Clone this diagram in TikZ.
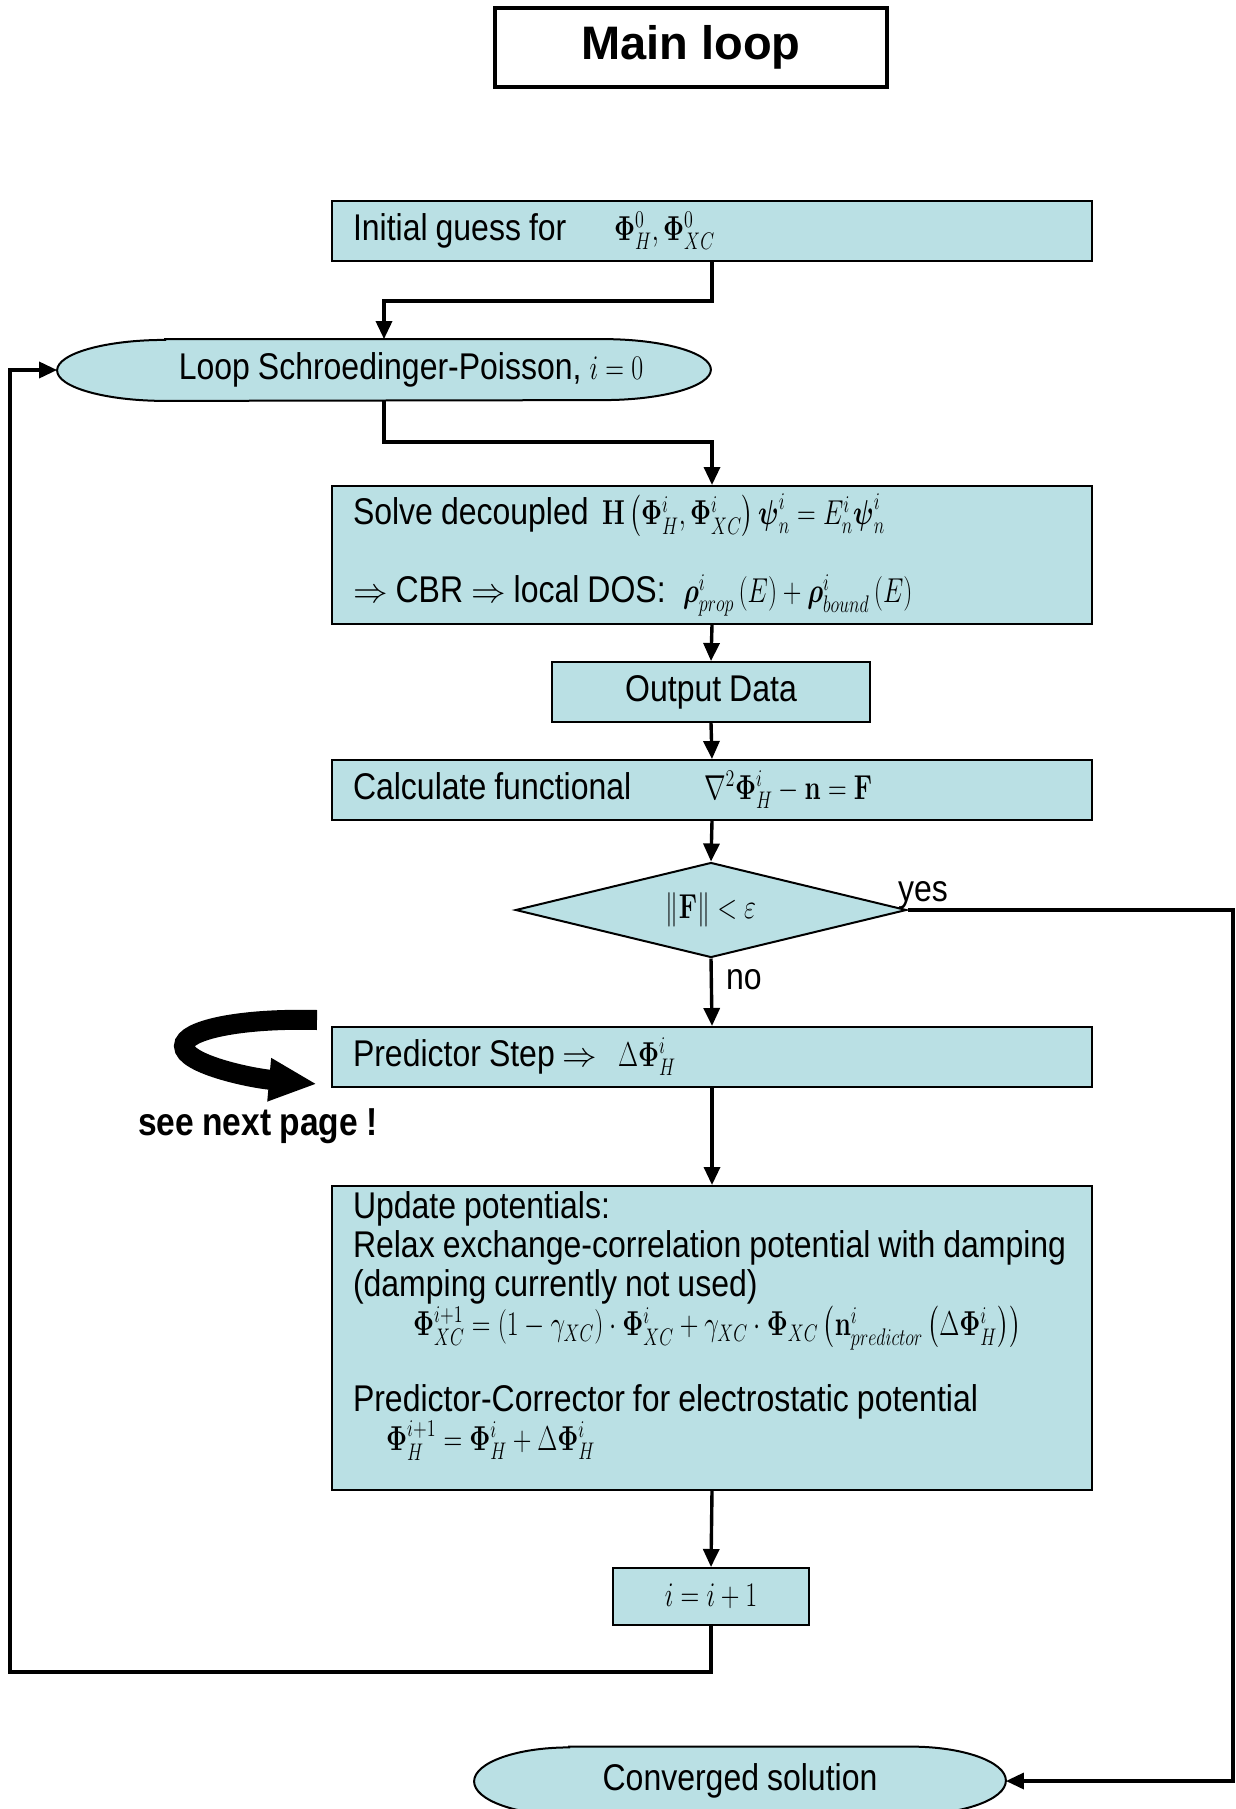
\documentclass[tikz,border=0pt]{standalone}
\usepackage{amsmath}
\usepackage{graphicx}
\usepackage[no-math]{fontspec}
\newfontfamily\boxfont[FakeStretch=0.86, WordSpace=0.9]{Liberation Sans}
\newfontfamily\titlefont{Liberation Sans}
\usetikzlibrary{arrows.meta,shapes.geometric,backgrounds}
\definecolor{boxfill}{RGB}{186,224,228}
% narrow formulas to go with the narrow text
\newcommand\sqz[1]{\scalebox{0.75}[1]{$#1$}}

\begin{document}
\begin{tikzpicture}[x=0.5pt, y=-0.5pt,
  every node/.style={font=\boxfont\fontsize{18.6}{22}\selectfont},
  box/.style={draw, line width=1pt, fill=boxfill, inner sep=0pt},
  wide/.style={box, anchor=north west, minimum width=380pt, text width=359pt,
    inner xsep=10.5pt, align=left, execute at begin node={\spaceskip=0pt\xspaceskip=0pt}},
  conn/.style={line width=1.7pt, -{Triangle[length=9pt,width=8pt]}}]
  \useasboundingbox (0,0) rectangle (1236,1809);

  \node[draw, line width=2.25pt, minimum width=196pt, minimum height=39.5pt,
    font=\titlefont\bfseries\fontsize{23.5}{28}\selectfont] (title) at (691,47.5) {Main loop};

  \node[wide, minimum height=30pt] (init) at (331,200)
    {\makebox[130.5pt][l]{Initial guess for}\sqz{\mathbf{\Phi}^0_H,\mathbf{\Phi}^0_{XC}}};
  \node[minimum width=326.5pt, minimum height=30.5pt, inner sep=0pt] (loop) at (384,370)
    {\hspace*{27pt}Loop Schroedinger-Poisson, \sqz{i=0}};
  \node[wide, minimum height=69pt] (solve) at (331,485)
    {\makebox[124.5pt][l]{Solve decoupled}\sqz{\mathbf{H}\left(\mathbf{\Phi}^i_H,\mathbf{\Phi}^i_{XC}\right)\boldsymbol{\psi}^i_n=E^i_n\boldsymbol{\psi}^i_n}\\[17pt]
     \makebox[165pt][l]{$\Rightarrow$ CBR $\Rightarrow$ local DOS:}\sqz{\boldsymbol{\rho}^i_{prop}\left(E\right)+\boldsymbol{\rho}^i_{bound}\left(E\right)}};
  \node[box, minimum width=159pt, minimum height=30pt] (out) at (711,692) {Output Data};
  \node[wide, minimum height=30pt] (calc) at (331,759)
    {\makebox[175.5pt][l]{Calculate functional}\sqz{\nabla^2\mathbf{\Phi}^i_H-\mathbf{n}=\mathbf{F}}};
  \node[box, diamond, aspect=4, minimum width=195.5pt, minimum height=47.5pt] (dec) at (711,910)
    {\sqz{\left\|\mathbf{F}\right\|<\varepsilon}};
  \node[wide, minimum height=30pt] (pred) at (331,1026)
    {\makebox[132.5pt][l]{Predictor Step $\Rightarrow$}\sqz{\Delta\mathbf{\Phi}^i_H}};
  \node[wide, inner ysep=3pt] (upd) at (331,1185)
    {\begin{minipage}[t][146pt][t]{359pt}\raggedright\fontsize{18.6}{19.5}\selectfont
     Update potentials:\\
     \mbox{Relax exchange-correlation potential with damping}\\
     (damping currently not used)\\
     \hspace*{30pt}\sqz{\mathbf{\Phi}^{i+1}_{XC}=\left(1-\gamma_{XC}\right)\cdot\mathbf{\Phi}^i_{XC}+\gamma_{XC}\cdot\mathbf{\Phi}_{XC}\left(\mathbf{n}^i_{predictor}\left(\Delta\mathbf{\Phi}^i_H\right)\right)}\\[16pt]
     Predictor-Corrector for electrostatic potential\\
     \hspace*{16.5pt}\sqz{\mathbf{\Phi}^{i+1}_H=\mathbf{\Phi}^i_H+\Delta\mathbf{\Phi}^i_H}
     \end{minipage}};
  \node[box, minimum width=98pt, minimum height=28.5pt] (inc) at (711,1596.5) {\sqz{i=i+1}};
  \node[minimum width=265.5pt, minimum height=34pt, inner sep=0pt] (done) at (740,1781)
    {Converged solution};

  % terminal shapes with flat tops and elliptic ends
  \begin{scope}[on background layer]
    \foreach \n/\rx/\ry in {loop/54pt/15.25pt, done/47.5pt/17pt}
      \draw[box] ([xshift=\rx]\n.north west) -- ([xshift=-\rx]\n.north east)
        arc[start angle=90, end angle=-90, x radius=\rx, y radius=\ry]
        -- ([xshift=\rx]\n.south west)
        arc[start angle=270, end angle=90, x radius=\rx, y radius=\ry] -- cycle;
  \end{scope}

  \node[anchor=base west] (yeslab) at (891,901) {yes};
  \node[anchor=base west] (nolab) at (719,989) {no};
  \node[anchor=base west, font=\boxfont\bfseries\fontsize{19.5}{22}\selectfont] (note) at (131,1135)
    {see next page !};

  \coordinate (back) at (10,1672);
  \coordinate (side) at (1233,910);

  \draw[conn] (init.south) -- ++(0,39) -| (loop.north);
  \draw[conn] (loop.south) -- ++(0,41) -| (solve.north);
  \draw[conn] (solve.south) -- (out.north);
  \draw[conn] (out.south) -- (calc.north);
  \draw[conn] (calc.south) -- (dec.north);
  \draw[conn] (dec.south) -- (pred.north);
  \draw[conn] (pred.south) -- (upd.north);
  \draw[conn] (upd.south) -- (inc.north);
  \draw[conn] (inc.south) |- (back) |- (loop.west);
  \draw[conn] (dec.east) -- (side) |- (done.east);

  % turn-over arrow
  \draw[line width=10pt, -{Triangle[length=24pt,width=20pt]}] (317,1020)
    .. controls (240,1018) and (184,1030) .. (184,1046)
    .. controls (184,1064) and (250,1078) .. (317,1084);
\end{tikzpicture}
\end{document}
